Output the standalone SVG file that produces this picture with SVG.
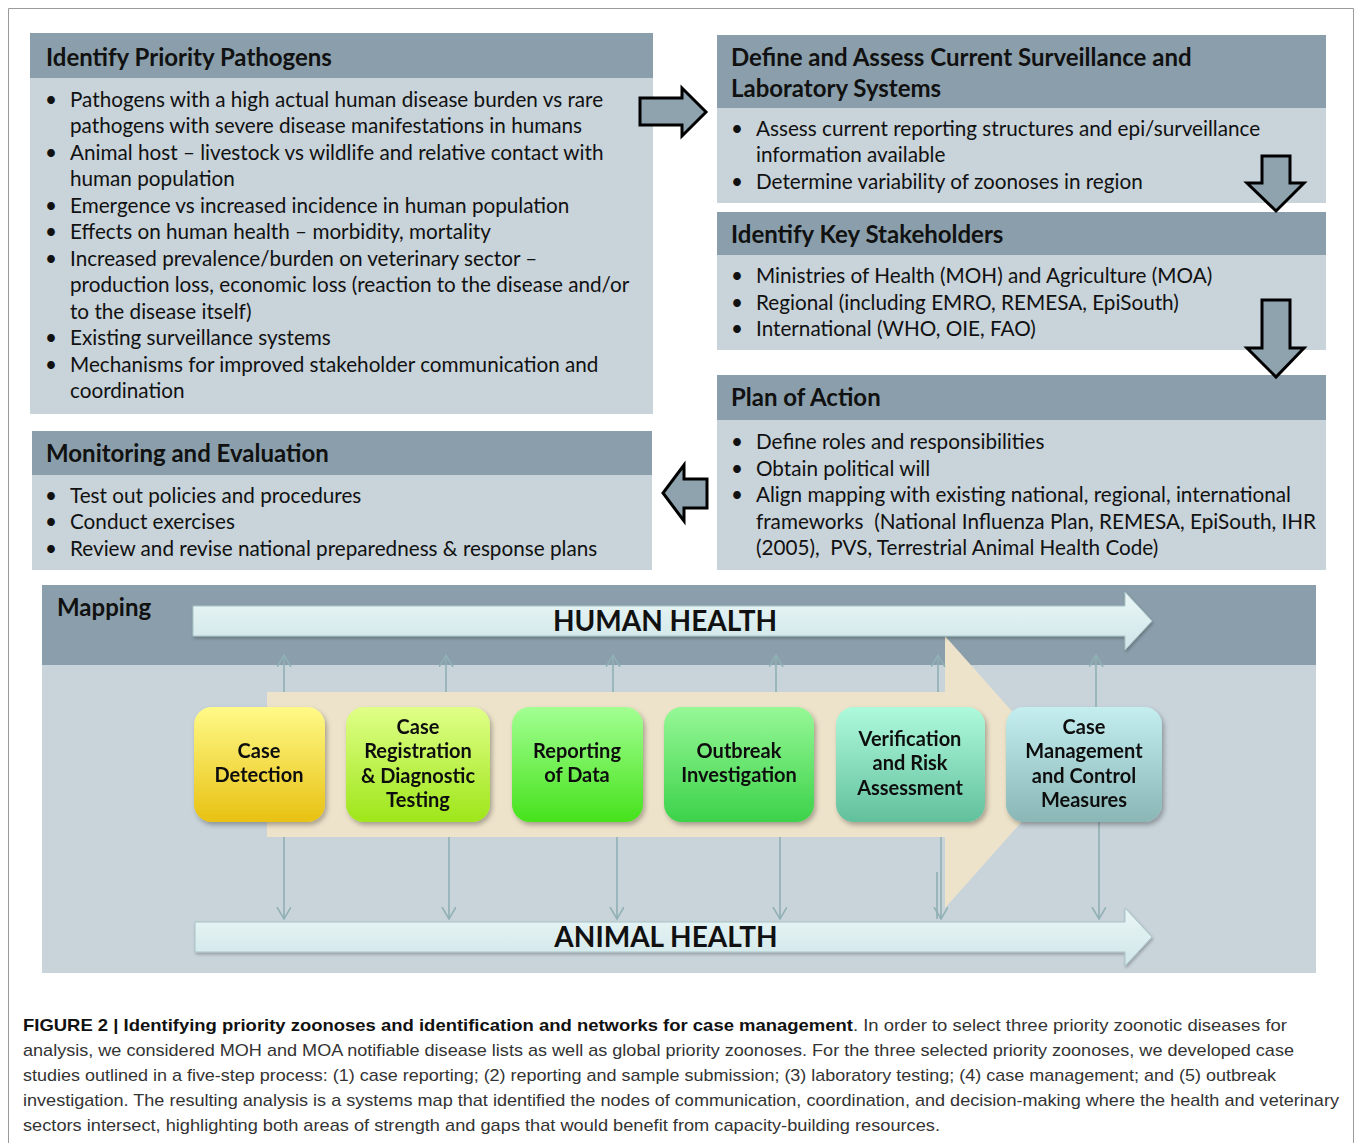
<svg xmlns="http://www.w3.org/2000/svg" width="1356" height="1143" viewBox="0 0 1356 1143">
<style>
.hdr{fill:#8a9fab}
.body{fill:#c8d3da}
.ht{font-family:Lato,"Liberation Sans",sans-serif;font-weight:bold;font-size:24px;fill:#111}
.bt{font-family:Lato,"Liberation Sans",sans-serif;font-size:20.7px;fill:#111}
.blk{fill:#8ea3ae;stroke:#000;stroke-width:3;stroke-linejoin:miter}
.nt{font-family:Lato,"Liberation Sans",sans-serif;font-weight:bold;font-size:20px;fill:#111;text-anchor:middle}
.big{font-family:Lato,"Liberation Sans",sans-serif;font-weight:bold;font-size:28px;fill:#111;text-anchor:middle}
.vl{stroke:#8fb0b4;stroke-width:1.6;fill:none}
.cap{font-family:"Liberation Sans",Arial,sans-serif;font-size:17px;fill:#333}
.capb{font-weight:bold;fill:#111}
.pre{white-space:pre}
</style>
<defs>
<marker id="ah" markerWidth="16" markerHeight="16" refX="12" refY="7" orient="auto" markerUnits="userSpaceOnUse"><path d="M0,0 L12,7 L0,14" fill="none" stroke="#8fb0b4" stroke-width="1.5"/></marker>
<filter id="sh" x="-10%" y="-10%" width="130%" height="130%"><feDropShadow dx="2" dy="3" stdDeviation="2.5" flood-color="#000" flood-opacity="0.3"/></filter>
<filter id="sh2" x="-5%" y="-30%" width="110%" height="160%"><feDropShadow dx="1" dy="2" stdDeviation="1.5" flood-color="#000" flood-opacity="0.25"/></filter>
<linearGradient id="g1" x1="0" y1="0" x2="0" y2="1"><stop offset="0" stop-color="#fffa88"/><stop offset="1" stop-color="#e8c112"/></linearGradient>
<linearGradient id="g2" x1="0" y1="0" x2="0" y2="1"><stop offset="0" stop-color="#e0ff88"/><stop offset="1" stop-color="#9ee61a"/></linearGradient>
<linearGradient id="g3" x1="0" y1="0" x2="0" y2="1"><stop offset="0" stop-color="#a2ff92"/><stop offset="1" stop-color="#46e21c"/></linearGradient>
<linearGradient id="g4" x1="0" y1="0" x2="0" y2="1"><stop offset="0" stop-color="#96f896"/><stop offset="1" stop-color="#3cd24a"/></linearGradient>
<linearGradient id="g5" x1="0" y1="0" x2="0" y2="1"><stop offset="0" stop-color="#aefadc"/><stop offset="1" stop-color="#62c09c"/></linearGradient>
<linearGradient id="g6" x1="0" y1="0" x2="0" y2="1"><stop offset="0" stop-color="#c4eef0"/><stop offset="1" stop-color="#8ab6b6"/></linearGradient>
<linearGradient id="ga" x1="0" y1="0" x2="0" y2="1"><stop offset="0" stop-color="#eaf6f6"/><stop offset="1" stop-color="#cfe6e8"/></linearGradient>
</defs>

<rect width="1356" height="1143" fill="#fff"/>
<path d="M8.5,1143 V8.5 H1353.5 V1143" fill="none" stroke="#9a9a9a" stroke-width="1"/>

<g id="priority-pathogens">
<rect class="body" x="30" y="78" width="623" height="336"/>
<rect class="hdr" x="30" y="33" width="623" height="45"/>
<text class="ht" x="46" y="66">Identify Priority Pathogens</text>
<g class="bt">
<text x="45" y="107">•</text><text x="70" y="107">Pathogens with a high actual human disease burden vs rare</text>
<text x="70" y="133">pathogens with severe disease manifestations in humans</text>
<text x="45" y="160">•</text><text x="70" y="160">Animal host – livestock vs wildlife and relative contact with</text>
<text x="70" y="186">human population</text>
<text x="45" y="213">•</text><text x="70" y="213">Emergence vs increased incidence in human population</text>
<text x="45" y="239">•</text><text x="70" y="239">Effects on human health – morbidity, mortality</text>
<text x="45" y="266">•</text><text x="70" y="266">Increased prevalence/burden on veterinary sector –</text>
<text x="70" y="292">production loss, economic loss (reaction to the disease and/or</text>
<text x="70" y="319">to the disease itself)</text>
<text x="45" y="345">•</text><text x="70" y="345">Existing surveillance systems</text>
<text x="45" y="372">•</text><text x="70" y="372">Mechanisms for improved stakeholder communication and</text>
<text x="70" y="398">coordination</text>
</g>
</g>

<g id="surveillance-systems">
<rect class="body" x="717" y="108" width="609" height="95"/>
<rect class="hdr" x="717" y="35" width="609" height="73"/>
<text class="ht" x="731" y="66">Define and Assess Current Surveillance and</text>
<text class="ht" x="731" y="97">Laboratory Systems</text>
<g class="bt">
<text x="731" y="136">•</text><text x="756" y="136">Assess current reporting structures and epi/surveillance</text>
<text x="756" y="162">information available</text>
<text x="731" y="189">•</text><text x="756" y="189">Determine variability of zoonoses in region</text>
</g>
</g>

<g id="key-stakeholders">
<rect class="body" x="717" y="255" width="609" height="95"/>
<rect class="hdr" x="717" y="212" width="609" height="43"/>
<text class="ht" x="731" y="243">Identify Key Stakeholders</text>
<g class="bt">
<text x="731" y="283">•</text><text x="756" y="283">Ministries of Health (MOH) and Agriculture (MOA)</text>
<text x="731" y="310">•</text><text x="756" y="310">Regional (including EMRO, REMESA, EpiSouth)</text>
<text x="731" y="336">•</text><text x="756" y="336">International (WHO, OIE, FAO)</text>
</g>
</g>

<g id="plan-of-action">
<rect class="body" x="717" y="420" width="609" height="150"/>
<rect class="hdr" x="717" y="375" width="609" height="45"/>
<text class="ht" x="731" y="406">Plan of Action</text>
<g class="bt">
<text x="731" y="449">•</text><text x="756" y="449">Define roles and responsibilities</text>
<text x="731" y="476">•</text><text x="756" y="476">Obtain political will</text>
<text x="731" y="502">•</text><text x="756" y="502">Align mapping with existing national, regional, international</text>
<text class="pre" x="756" y="529">frameworks  (National Influenza Plan, REMESA, EpiSouth, IHR</text>
<text class="pre" x="756" y="555">(2005),  PVS, Terrestrial Animal Health Code)</text>
</g>
</g>

<g id="monitoring-evaluation">
<rect class="body" x="32" y="475" width="620" height="95"/>
<rect class="hdr" x="32" y="431" width="620" height="44"/>
<text class="ht" x="46" y="462">Monitoring and Evaluation</text>
<g class="bt">
<text x="45" y="503">•</text><text x="70" y="503">Test out policies and procedures</text>
<text x="45" y="529">•</text><text x="70" y="529">Conduct exercises</text>
<text x="45" y="556">•</text><text x="70" y="556">Review and revise national preparedness &amp; response plans</text>
</g>
</g>

<g id="flow-arrows">
<polygon class="blk" points="640,98 682,98 682,88 706,112 682,136 682,125 640,125"/>
<polygon class="blk" points="1262,156 1290,156 1290,183 1304,183 1276,211 1247,183 1262,183"/>
<polygon class="blk" points="1262,300 1290,300 1290,348 1304,348 1276,377 1247,348 1262,348"/>
<polygon class="blk" points="707,479 707,508 684,508 684,521 663,493 684,465 684,479"/>
</g>

<g id="mapping">
<rect x="42" y="585" width="1274" height="388" fill="#c8d3da"/>
<rect x="42" y="585" width="1274" height="80" fill="#8a9fab"/>
<text class="ht" x="57" y="616">Mapping</text>
<polygon points="267,692 945,692 945,636 1066,772 945,908 945,837 267,837" fill="#ede3ca"/>
<polygon filter="url(#sh2)" points="193,606 1125,606 1125,592 1152,621 1125,650 1125,636 193,636" fill="url(#ga)" stroke="#a9c4c7" stroke-width="1"/>
<text class="big" x="665" y="631">HUMAN HEALTH</text>
<polygon filter="url(#sh2)" points="195,922 1125,922 1125,908 1152,937 1125,966 1125,952 195,952" fill="url(#ga)" stroke="#a9c4c7" stroke-width="1"/>
<text class="big" x="666" y="947">ANIMAL HEALTH</text>
</g>

<g id="connectors">
<line class="vl" x1="284" y1="692" x2="284" y2="655" marker-end="url(#ah)"/>
<line class="vl" x1="446" y1="692" x2="446" y2="655" marker-end="url(#ah)"/>
<line class="vl" x1="613" y1="692" x2="613" y2="655" marker-end="url(#ah)"/>
<line class="vl" x1="776" y1="692" x2="776" y2="655" marker-end="url(#ah)"/>
<line class="vl" x1="938" y1="692" x2="938" y2="655" marker-end="url(#ah)"/>
<line class="vl" x1="1096" y1="707" x2="1096" y2="655" marker-end="url(#ah)"/>
<line class="vl" x1="284" y1="837" x2="284" y2="919" marker-end="url(#ah)"/>
<line class="vl" x1="449" y1="837" x2="449" y2="919" marker-end="url(#ah)"/>
<line class="vl" x1="617" y1="837" x2="617" y2="919" marker-end="url(#ah)"/>
<line class="vl" x1="780" y1="837" x2="780" y2="919" marker-end="url(#ah)"/>
<line class="vl" x1="941" y1="837" x2="941" y2="919" marker-end="url(#ah)"/>
<line class="vl" x1="937" y1="872" x2="937" y2="919"/>
<line class="vl" x1="1099" y1="822" x2="1099" y2="919" marker-end="url(#ah)"/>
</g>

<g id="case-detection" filter="url(#sh)">
<rect x="194" y="707" width="131" height="115" rx="18" fill="url(#g1)"/>
<text class="nt" x="259" y="758">Case</text>
<text class="nt" x="259" y="782">Detection</text>
</g>
<g id="case-registration" filter="url(#sh)">
<rect x="346" y="707" width="144" height="115" rx="18" fill="url(#g2)"/>
<text class="nt" x="418" y="734">Case</text>
<text class="nt" x="418" y="758">Registration</text>
<text class="nt" x="418" y="783">&amp; Diagnostic</text>
<text class="nt" x="418" y="807">Testing</text>
</g>
<g id="reporting-data" filter="url(#sh)">
<rect x="512" y="707" width="131" height="115" rx="18" fill="url(#g3)"/>
<text class="nt" x="577" y="758">Reporting</text>
<text class="nt" x="577" y="782">of Data</text>
</g>
<g id="outbreak-investigation" filter="url(#sh)">
<rect x="664" y="707" width="150" height="115" rx="18" fill="url(#g4)"/>
<text class="nt" x="739" y="758">Outbreak</text>
<text class="nt" x="739" y="782">Investigation</text>
</g>
<g id="verification-risk" filter="url(#sh)">
<rect x="836" y="707" width="149" height="115" rx="18" fill="url(#g5)"/>
<text class="nt" x="910" y="746">Verification</text>
<text class="nt" x="910" y="770">and Risk</text>
<text class="nt" x="910" y="795">Assessment</text>
</g>
<g id="case-management" filter="url(#sh)">
<rect x="1006" y="707" width="156" height="115" rx="18" fill="url(#g6)"/>
<text class="nt" x="1084" y="734">Case</text>
<text class="nt" x="1084" y="758">Management</text>
<text class="nt" x="1084" y="783">and Control</text>
<text class="nt" x="1084" y="807">Measures</text>
</g>

<g id="caption" class="cap">
<text x="23" y="1031" textLength="1264" lengthAdjust="spacingAndGlyphs"><tspan class="capb">FIGURE 2 | Identifying priority zoonoses and identification and networks for case management</tspan>. In order to select three priority zoonotic diseases for</text>
<text x="23" y="1056" textLength="1271" lengthAdjust="spacingAndGlyphs">analysis, we considered MOH and MOA notifiable disease lists as well as global priority zoonoses. For the three selected priority zoonoses, we developed case</text>
<text x="23" y="1081" textLength="1253" lengthAdjust="spacingAndGlyphs">studies outlined in a five-step process: (1) case reporting; (2) reporting and sample submission; (3) laboratory testing; (4) case management; and (5) outbreak</text>
<text x="23" y="1106" textLength="1316" lengthAdjust="spacingAndGlyphs">investigation. The resulting analysis is a systems map that identified the nodes of communication, coordination, and decision-making where the health and veterinary</text>
<text x="23" y="1131" textLength="917" lengthAdjust="spacingAndGlyphs">sectors intersect, highlighting both areas of strength and gaps that would benefit from capacity-building resources.</text>
</g>
</svg>
